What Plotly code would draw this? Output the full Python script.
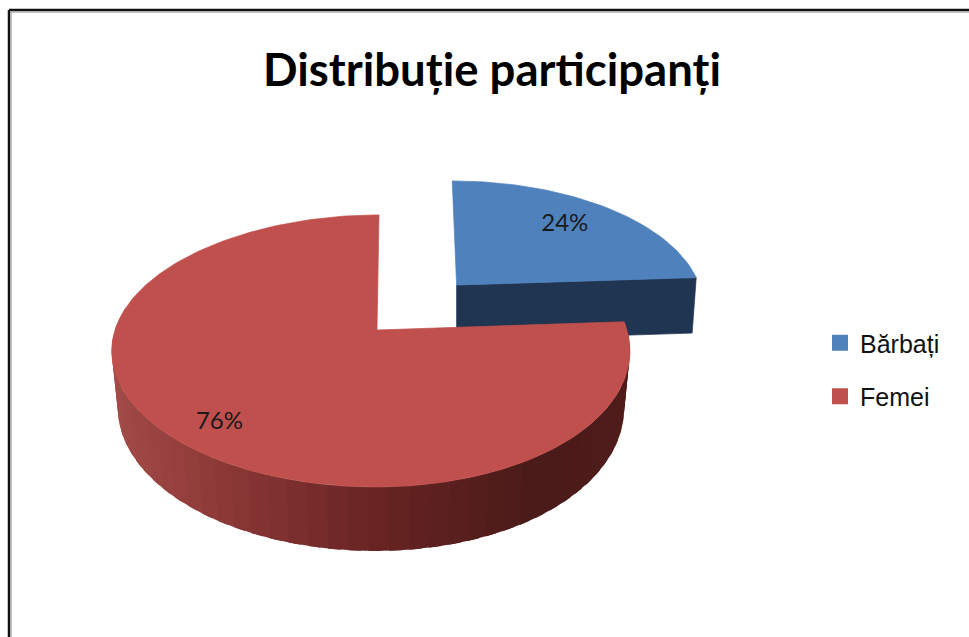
import numpy as np
import plotly.graph_objects as go

TITLE = "Distribuție participanți"
categories = ["Bărbați", "Femei"]
values = [24, 76]
labels = ["24%", "76%"]

TOP_COLORS = ["#4F81BD", "#C0504D"]
CX, CY, W, H, K = 377.0, 330.0, 256.0, 132.8, 0.154


def project(X, Z):
    d = 1 + K * Z
    return CX + W * X / d + 2 * Z, CY - H * Z / d


def rim_drop(Z):
    return 55.5 - 8.5 * Z


share = np.array(values) / sum(values) * 360
start_blue, end_blue = 90.0, 90.0 - share[0]
mid = np.radians((start_blue + end_blue) / 2)
EXPLODE = 0.49
OX, OZ = EXPLODE * np.cos(mid), EXPLODE * np.sin(mid)

fig = go.Figure()


def poly(x, y, color, line=0.7):
    fig.add_trace(go.Scatter(x=list(x) + [x[0]], y=list(y) + [y[0]], mode="lines", fill="toself",
                             fillcolor=color, line=dict(color=color, width=line),
                             hoverinfo="skip", showlegend=False))


def blue_project(X, Z):
    x, y = project(OX + X, OZ + Z)
    return x - 2.5 + 4 * Z, y


# ---- Blue slice (exploded) ----
tb = np.radians(np.linspace(end_blue, start_blue, 60))
bx, by = blue_project(np.cos(tb), np.sin(tb))
ax, ay = blue_project(0.0, 0.0)
rx, ry = blue_project(np.cos(tb[0]), np.sin(tb[0]))
dr = 55.5
poly([ax, rx, ax + (rx - ax) * 0.983, ax], [ay, ry, ry + dr, ay + dr], "#1F3552")
poly([ax] + list(bx), [ay] + list(by), TOP_COLORS[0])

# ---- Red slice: side strips with gradient, then top ----
side_end = 360 + (90 - share[0])
side_angles = np.linspace(170, side_end, 50)
stops_x = [118, 230, 390, 540, 625]
stops_c = np.array([[163, 76, 73], [140, 57, 55], [102, 36, 35], [74, 27, 25], [80, 29, 27]])


def red_project(t):
    X, Z = np.cos(t), np.sin(t)
    x, y = project(X, Z)
    return x - 6 * X ** 2, y


for a0, a1 in zip(side_angles[:-1], side_angles[1:]):
    t = np.radians(np.linspace(a0, min(a1 + 2.5, side_end), 6))
    x, y = red_project(t)
    Z = np.sin(t)
    xb = CX + (x - CX) * 0.977
    yb = y + rim_drop(Z)
    xm = float(np.mean(xb))
    col = [np.interp(xm, stops_x, stops_c[:, i]) for i in range(3)]
    color = "rgb(%d,%d,%d)" % tuple(col)
    poly(list(x) + list(xb[::-1]), list(y) + list(yb[::-1]), color, line=0)

tr = np.radians(np.linspace(90, 90 + share[1], 220))
x, y = red_project(tr)
poly([CX] + list(x), [CY] + list(y), TOP_COLORS[1])

# ---- Percent labels ----
px, py = blue_project(0.72 * np.cos(mid), 0.74 * np.sin(mid))
mid_r = np.radians(90 + share[1] / 2)
qx, qy = project(0.805 * np.cos(mid_r), 0.865 * np.sin(mid_r))
fig.add_trace(go.Scatter(x=[px, qx], y=[py, qy], text=labels, mode="text",
                         textfont=dict(family="Lato", size=24, color="#1a1a1a"),
                         hoverinfo="skip", showlegend=False))

# ---- Legend entries ----
for name, color in zip(categories, TOP_COLORS):
    fig.add_trace(go.Scatter(x=[None], y=[None], mode="markers", name=name, legendgroup=name,
                             marker=dict(symbol="square", size=17, color=color)))

fig.update_layout(
    width=969, height=637, autosize=False,
    margin=dict(l=0, r=0, t=0, b=0),
    paper_bgcolor="white", plot_bgcolor="white",
    title=dict(text=TITLE, x=492 / 969, xanchor="center", y=1 - 70 / 637, yanchor="middle",
               font=dict(family="Lato", size=45.5, color="#000000", weight="bold")),
    xaxis=dict(range=[0, 969], visible=False, fixedrange=True),
    yaxis=dict(range=[637, 0], visible=False, fixedrange=True),
    legend=dict(x=820 / 969, y=1 - 320 / 637, xanchor="left", yanchor="top", tracegroupgap=18,
                bgcolor="rgba(0,0,0,0)", font=dict(family="Liberation Sans", size=25, color="#111111"),
                borderwidth=0),
    shapes=[
        dict(type="line", xref="x", yref="y", x0=9, y0=10, x1=969, y1=10, line=dict(color="#111111", width=2.5)),
        dict(type="line", xref="x", yref="y", x0=9, y0=10, x1=9, y1=637, line=dict(color="#111111", width=2.5)),
        dict(type="line", xref="x", yref="y", x0=11, y0=12, x1=969, y1=12, line=dict(color="#aaaaaa", width=1.5)),
        dict(type="line", xref="x", yref="y", x0=11, y0=12, x1=11, y1=637, line=dict(color="#aaaaaa", width=1.5)),
    ],
)
fig.write_html("out.html", config=dict(displayModeBar=False),
               post_script="document.body.style.margin='0';document.documentElement.style.overflow='hidden';")
